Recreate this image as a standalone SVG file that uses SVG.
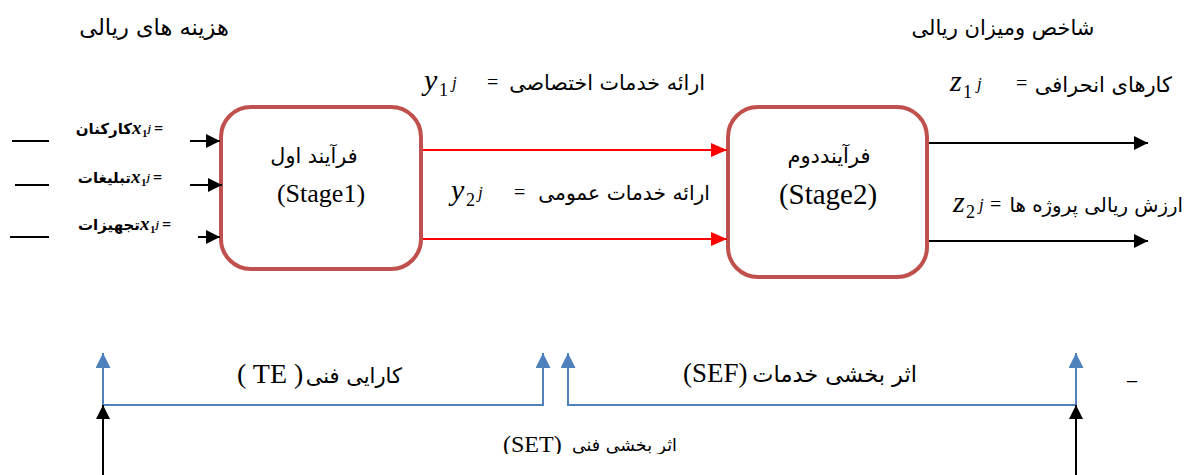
<svg xmlns="http://www.w3.org/2000/svg" width="1200" height="475" viewBox="0 0 1200 475">
<style>
.ar{font-family:"DejaVu Sans","Noto Sans",sans-serif;fill:#000}
.lat{font-family:"Liberation Serif","DejaVu Serif",serif;fill:#000}
.math{font-family:"Liberation Serif","DejaVu Serif",serif;font-style:italic;fill:#000}
.box{fill:#fff;stroke:#C0504D;stroke-width:4}
.blk{stroke:#000;stroke-width:2;fill:none}
.red{stroke:#FF0000;stroke-width:2;fill:none}
.blu{stroke:#4F81BD;stroke-width:2;fill:none}
.bold{font-weight:bold}
</style>
<defs>
<marker id="aBlack" markerUnits="userSpaceOnUse" markerWidth="14" markerHeight="14" refX="14" refY="7" orient="auto"><path d="M0,0 L14,7 L0,14 z" fill="#000"/></marker>
<marker id="aRed" markerUnits="userSpaceOnUse" markerWidth="16" markerHeight="14" refX="16" refY="7" orient="auto"><path d="M0,0 L16,7 L0,14 z" fill="#FF0000"/></marker>
<marker id="aBlue" markerUnits="userSpaceOnUse" markerWidth="15" markerHeight="15" refX="15" refY="7.5" orient="auto"><path d="M0,0 L15,7.5 L0,15 z" fill="#4F81BD"/></marker>
<clipPath id="clipBottom"><rect x="0" y="0" width="1200" height="454"/></clipPath>
</defs>

<!-- top headings -->
<text class="ar" x="154" y="35" font-size="22.5" text-anchor="middle">هزینه های ریالی</text>
<text class="ar" x="1003" y="35" font-size="21" text-anchor="middle">شاخص ومیزان ریالی</text>

<!-- input labels -->
<g id="input1">
<text class="ar bold" x="132" y="134" font-size="15" text-anchor="end">کارکنان</text>
<text class="math bold" x="132" y="134" font-size="19">x</text>
<text class="lat bold" x="142" y="137" font-size="11">1</text>
<text class="math bold" x="148" y="132" font-size="10">j</text>
<text class="lat bold" x="154" y="134" font-size="16">=</text>
</g>
<g id="input2">
<text class="ar bold" x="131" y="183" font-size="15" text-anchor="end">تبلیغات</text>
<text class="math bold" x="131" y="183" font-size="19">x</text>
<text class="lat bold" x="141" y="186" font-size="11">1</text>
<text class="math bold" x="147" y="181" font-size="10">j</text>
<text class="lat bold" x="153" y="183" font-size="16">=</text>
</g>
<g id="input3">
<text class="ar bold" x="140" y="230" font-size="15" text-anchor="end">تجهیزات</text>
<text class="math bold" x="140" y="230" font-size="19">x</text>
<text class="lat bold" x="150" y="233" font-size="11">1</text>
<text class="math bold" x="156" y="228" font-size="10">j</text>
<text class="lat bold" x="162" y="230" font-size="16">=</text>
</g>

<!-- stage 1 -->
<g id="stage1">
<rect class="box" x="221" y="107" width="200" height="162" rx="30" ry="30"/>
<text class="ar" x="314" y="163" font-size="20.7" text-anchor="middle">فرآیند اول</text>
<text class="lat" x="321" y="202" font-size="26" text-anchor="middle">(Stage1)</text>
</g>

<!-- stage 2 -->
<g id="stage2">
<rect class="box" x="728" y="107" width="199" height="170" rx="30" ry="30"/>
<text class="ar" x="829" y="163" font-size="21" text-anchor="middle">فرآینددوم</text>
<text class="lat" x="828" y="204" font-size="29" text-anchor="middle">(Stage2)</text>
</g>

<!-- middle labels -->
<g id="label-y1">
<text class="math" x="424" y="90" font-size="30">y</text>
<text class="lat" x="439" y="96" font-size="18">1</text>
<text class="math" x="452" y="88" font-size="17">j</text>
<text class="lat" x="487" y="89" font-size="20">=</text>
<text class="ar" x="705" y="90" font-size="20.7" text-anchor="end">ارائه خدمات اختصاصی</text>
</g>
<g id="label-y2">
<text class="math" x="451" y="200" font-size="30">y</text>
<text class="lat" x="466" y="206" font-size="18">2</text>
<text class="math" x="478" y="198" font-size="17">j</text>
<text class="lat" x="514" y="199" font-size="20">=</text>
<text class="ar" x="710" y="200" font-size="20.3" text-anchor="end">ارائه خدمات عمومی</text>
</g>

<!-- output labels -->
<g id="label-z1">
<text class="math" x="950" y="91" font-size="30">z</text>
<text class="lat" x="963" y="98" font-size="18">1</text>
<text class="math" x="977" y="89" font-size="17">j</text>
<text class="lat" x="1016" y="90" font-size="20">=</text>
<text class="ar" x="1172" y="92" font-size="21" text-anchor="end">کارهای انحرافی</text>
</g>
<g id="label-z2">
<text class="math" x="953" y="212" font-size="30">z</text>
<text class="lat" x="966" y="218" font-size="18">2</text>
<text class="math" x="979" y="210" font-size="17">j</text>
<text class="lat" x="990" y="211" font-size="20">=</text>
<text class="ar" x="1183" y="212" font-size="19.8" text-anchor="end">ارزش ریالی پروژه ها</text>
</g>

<!-- connectors -->
<g id="connectors">
<line class="blk" x1="12" y1="141" x2="49" y2="141"/>
<line class="blk" x1="15" y1="185" x2="49" y2="185"/>
<line class="blk" x1="10" y1="237" x2="49" y2="237"/>
<line class="blk" x1="190" y1="141" x2="220" y2="141" marker-end="url(#aBlack)"/>
<line class="blk" x1="190" y1="185" x2="222" y2="185" marker-end="url(#aBlack)"/>
<line class="blk" x1="198" y1="237" x2="220" y2="237" marker-end="url(#aBlack)"/>
<line class="red" x1="423" y1="150" x2="727" y2="150" marker-end="url(#aRed)"/>
<line class="red" x1="423" y1="239" x2="727" y2="239" marker-end="url(#aRed)"/>
<line class="blk" x1="929" y1="143" x2="1148" y2="143" marker-end="url(#aBlack)"/>
<line class="blk" x1="929" y1="241" x2="1148" y2="241" marker-end="url(#aBlack)"/>
<path class="blu" d="M103,405 L103,353" marker-end="url(#aBlue)"/>
<path class="blu" d="M103,405 L543,405 L543,353" marker-end="url(#aBlue)"/>
<path class="blu" d="M1076,405 L568,405 L568,353" marker-end="url(#aBlue)"/>
<path class="blu" d="M1076,405 L1076,353" marker-end="url(#aBlue)"/>
<line class="blk" x1="103" y1="475" x2="103" y2="405" marker-end="url(#aBlack)"/>
<line class="blk" x1="1076" y1="475" x2="1076" y2="405" marker-end="url(#aBlack)"/>
</g>

<!-- bottom labels -->
<g id="label-te">
<text class="lat" x="237" y="383" font-size="28">( TE )</text>
<text class="ar" x="402" y="383" font-size="21" text-anchor="end">کارایی فنی</text>
</g>
<g id="label-sef">
<text class="lat" x="683" y="382" font-size="27">(SEF)</text>
<text class="ar" x="917" y="382" font-size="22.5" text-anchor="end">اثر بخشی خدمات</text>
</g>
<g id="label-set" clip-path="url(#clipBottom)">
<text class="lat" x="503" y="452" font-size="24">(SET)</text>
<text class="ar" x="677" y="451" font-size="17.5" text-anchor="end">اثر بخشی فنی</text>
</g>
<text class="lat" x="1127" y="379" font-size="20">_</text>
</svg>
